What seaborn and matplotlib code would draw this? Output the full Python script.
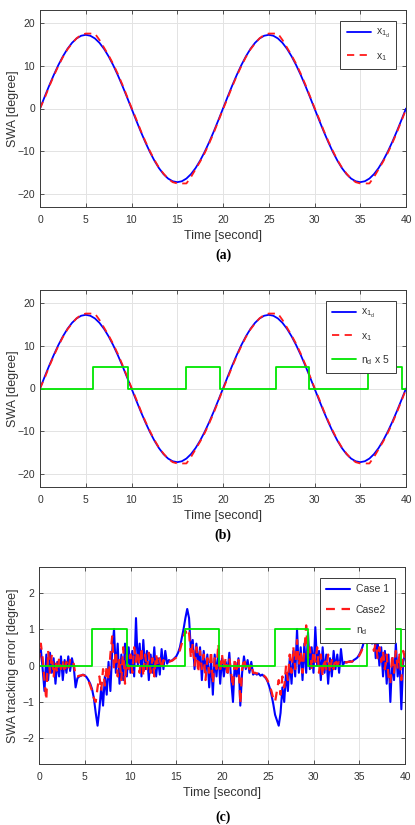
import numpy as np
import pandas as pd
import matplotlib
matplotlib.use("Agg")
import matplotlib.pyplot as plt
import seaborn as sns

# ---------------- data ----------------
dt_sine = 0.5
x1d = [0.0, 2.69, 5.32, 7.81, 10.11, 12.16, 13.92, 15.33, 16.36, 16.99, 17.2,
       16.99, 16.36, 15.33, 13.92, 12.16, 10.11, 7.81, 5.32, 2.69, 0.0,
       -2.69, -5.32, -7.81, -10.11, -12.16, -13.92, -15.33, -16.36, -16.99, -17.2,
       -16.99, -16.36, -15.33, -13.92, -12.16, -10.11, -7.81, -5.32, -2.69, 0.0,
       2.69, 5.32, 7.81, 10.11, 12.16, 13.92, 15.33, 16.36, 16.99, 17.2,
       16.99, 16.36, 15.33, 13.92, 12.16, 10.11, 7.81, 5.32, 2.69, 0.0,
       -2.69, -5.32, -7.81, -10.11, -12.16, -13.92, -15.33, -16.36, -16.99, -17.2,
       -16.99, -16.36, -15.33, -13.92, -12.16, -10.11, -7.81, -5.32, -2.69, 0.0]
x1 = [0.0, 2.4, 5.1, 7.6, 9.9, 12.0, 13.8, 15.2, 16.4, 17.2, 17.5,
      17.5, 17.5, 16.0, 14.2, 12.4, 10.4, 8.1, 5.6, 2.9, 0.2,
      -2.4, -5.1, -7.6, -9.9, -12.0, -13.8, -15.2, -16.4, -17.2, -17.5,
      -17.5, -17.5, -16.0, -14.2, -12.4, -10.4, -8.1, -5.6, -2.9, -0.2,
      2.4, 5.1, 7.6, 9.9, 12.0, 13.8, 15.2, 16.4, 17.2, 17.5,
      17.5, 17.5, 16.0, 14.2, 12.4, 10.4, 8.1, 5.6, 2.9, 0.2,
      -2.4, -5.1, -7.6, -9.9, -12.0, -13.8, -15.2, -16.4, -17.2, -17.5,
      -17.5, -17.5, -16.0, -14.2, -12.4, -10.4, -8.1, -5.6, -2.9, -0.2]

nd_t = [0.0, 5.8, 9.6, 16.0, 19.7, 25.8, 29.4, 35.8, 39.6, 40.0]
nd_v = [0, 1, 0, 1, 0, 1, 0, 1, 0, 0]
nd_scale = 5

dt_err = 0.2
case1 = [0.2, 0.45, -0.1, -0.7, 0.3, -0.4, 0.35, -0.2, 0.2, -0.5,
         0.1, -0.3, 0.25, -0.4, 0.15, -0.2, 0.25, -0.15, 0.2, -0.05,
         -0.6, -0.35, -0.3, -0.28, -0.25, -0.27, -0.32, -0.4, -0.5, -0.65,
         -0.9, -1.3, -1.65, -1.2, -0.6, -1.1, -0.3, -0.8, 0.1, -0.7,
         0.4, 1.0, -0.2, 0.6, -0.5, 0.3, -0.4, 0.6, -0.3, 0.5,
         -0.2, 0.4, -0.3, 1.3, 0.0, 0.6, -0.3, 0.7, -0.1, 0.4,
         -0.4, 0.3, -0.2, 0.5, -0.3, 0.2, -0.25, 0.45, -0.1, 0.4,
         0.05, 0.15, 0.12, 0.15, 0.2, 0.25, 0.35, 0.5, 0.75, 1.0,
         1.3, 1.55, 1.3, 0.4, 0.7, -0.1, 0.6, 0.0, 0.5, -0.4,
         0.4, -0.2, 0.3, -0.6, 0.2, -0.8, 0.3, -0.3, 0.4, -0.5,
         0.2, -0.3, 0.1, -0.2, 0.35, -0.4, -1.0, 0.1, -0.3, 0.2,
         -1.1, -0.2, 0.25, -0.1, 0.15, -0.2, 0.1, -0.25, -0.2, -0.25,
         -0.22, -0.28, -0.25, -0.3, -0.35, -0.45, -0.6, -0.8, -1.05, -1.35,
         -1.5, -1.65, -1.3, -0.6, -1.0, -0.2, -0.7, 0.2, -0.5, 0.4,
         -0.3, 1.0, -0.2, 0.5, -0.4, 0.6, -0.2, 0.9, -0.1, 0.5,
         -0.2, 1.05, 0.0, 0.4, -0.4, 0.5, -0.2, 0.3, -0.5, 0.2,
         -0.3, 0.4, -0.1, 0.3, -0.2, 0.45, 0.0, 0.1, 0.08, 0.1,
         0.12, 0.1, 0.15, 0.18, 0.22, 0.3, 0.4, 0.55, 0.75, 0.95,
         1.05, 0.9, 0.6, 1.05, 0.2, 0.7, 0.0, 0.5, -0.3, 0.4,
         -0.5, 0.3, -1.0, 0.2, -0.4, 0.6, -0.3, 0.2, -1.2, 0.1,
         0.3]
case2 = [0.1, 0.6, 0.2, -0.4, -0.95, 0.4, -0.2, 0.3, -0.3, 0.1,
         -0.2, 0.2, -0.1, 0.15, -0.2, 0.1, -0.1, 0.15, 0.0, 0.05,
         -0.3, -0.3, -0.28, -0.27, -0.26, -0.28, -0.33, -0.42, -0.55, -0.7,
         -0.9, -1.0, -0.6, -0.3, -0.7, -0.1, -0.55, 0.0, -0.4, 0.3,
         0.8, -0.1, 0.4, -0.3, 0.2, -0.4, 0.5, -0.5, 0.3, -0.1,
         0.3, -0.2, 0.5, 0.1, 0.4, -0.2, 0.5, -0.3, 0.3, -0.1,
         0.35, -0.2, 0.2, -0.3, 0.3, 0.0, 0.2, -0.1, 0.15, 0.05,
         0.1, 0.1, 0.12, 0.14, 0.18, 0.22, 0.3, 0.42, 0.6, 0.8,
         0.95, 0.8, 0.9, 0.2, 0.6, 0.0, 0.5, -0.2, 0.4, -0.1,
         0.3, -0.4, 0.2, -0.2, 0.4, -0.5, 0.2, -0.1, 0.6, -0.2,
         0.3, -0.1, 0.2, -0.3, 0.2, -0.2, -0.6, 0.2, -0.1, 0.15,
         -1.05, -0.1, 0.2, -0.05, 0.1, -0.1, 0.05, -0.2, -0.2, -0.22,
         -0.2, -0.25, -0.24, -0.28, -0.33, -0.42, -0.55, -0.7, -0.9, -1.0,
         -0.7, -0.4, -0.8, -0.3, -0.6, 0.0, -0.4, 0.3, -0.2, 0.5,
         -0.1, 0.7, 0.0, 0.4, -0.2, 0.4, 1.1, 0.2, 0.5, -0.1,
         0.4, 0.1, 0.5, -0.2, 0.3, -0.3, 0.2, -0.1, 0.3, -0.2,
         0.15, -0.1, 0.2, 0.0, 0.1, 0.05, 0.08, 0.08, 0.09, 0.1,
         0.1, 0.11, 0.13, 0.16, 0.2, 0.27, 0.37, 0.5, 0.7, 0.88,
         0.95, 0.85, 0.7, 0.4, 0.6, 0.2, 0.5, 0.1, 0.4, -0.1,
         0.3, -0.3, -0.5, 0.3, -0.2, 0.4, -0.1, 0.3, -0.4, 0.4,
         0.2]

xticks = [0, 5, 10, 15, 20, 25, 30, 35, 40]
yticks_ab = [-20, -10, 0, 10, 20]
yticks_c = [-2, -1, 0, 1, 2]

# ---------------- style ----------------
sns.set_theme(style="whitegrid")
plt.rcParams['font.family'] = ['Liberation Sans', 'DejaVu Sans']
plt.rcParams['mathtext.default'] = 'regular'
plt.rcParams['mathtext.fontset'] = 'custom'
plt.rcParams['mathtext.rm'] = 'Liberation Sans'

AX_COL = '#3a3a3a'
TXT_COL = '#333333'
BLUE = '#0000ff'
RED = '#ff1a1a'
GREEN = '#00e600'

W, H = 415, 825
fig = plt.figure(figsize=(W / 100, H / 100), dpi=100)
fig.patch.set_facecolor('white')


def style_axes(ax, ylim, yticks, ylabel, axh_px=197, axw_px=366, left_px=40):
    ax.set_xlim(0, 40)
    ax.set_ylim(*ylim)
    ax.set_xticks(xticks)
    ax.set_yticks(yticks)
    ax.set_facecolor('white')
    ax.grid(True, color='#e3e3e3', linewidth=0.7)
    for s in ax.spines.values():
        s.set_visible(True)
        s.set_color(AX_COL)
        s.set_linewidth(0.7)
    ax.tick_params(direction='in', length=3, width=0.6, colors=AX_COL,
                   labelsize=7.5, top=True, right=True, bottom=True, left=True,
                   labelcolor=TXT_COL)
    ax.tick_params(axis='x', pad=5.5)
    ax.tick_params(axis='y', pad=3.5)
    ax.set_xlabel('Time [second]', fontsize=9, color=TXT_COL)
    ax.set_ylabel(ylabel, fontsize=9, color=TXT_COL)
    ax.xaxis.set_label_coords(0.5, -29 / axh_px)
    ax.xaxis.label.set_va('center')
    ax.yaxis.set_label_coords((13 - left_px) / axw_px, 0.5)
    ax.yaxis.label.set_va('center')


def style_legend(ax):
    leg = ax.legend(loc='upper right', fontsize=7.5, frameon=True, fancybox=False,
                    framealpha=1, edgecolor=AX_COL, handlelength=2.3,
                    labelspacing=1.0, borderpad=0.6, handletextpad=0.5,
                    borderaxespad=0, bbox_to_anchor=(1 - 10 / 366, 1 - 11 / 197))
    leg.get_frame().set_linewidth(0.7)
    for t in leg.get_texts():
        t.set_color(TXT_COL)


t_sine = np.arange(len(x1d)) * dt_sine
t_err = np.arange(len(case1)) * dt_err
nd_arr = np.array(nd_v, dtype=float)

# ---- (a) ----
axa = fig.add_axes([40 / W, 1 - 207 / H, 366 / W, 197 / H])
sns.lineplot(x=t_sine, y=x1d, ax=axa, color=BLUE, linewidth=1.3, label='$x_{1_d}$', errorbar=None)
sns.lineplot(x=t_sine, y=x1, ax=axa, color=RED, linewidth=1.3, linestyle=(0, (4, 3)), label='$x_1$', errorbar=None)
style_axes(axa, (-23, 23), yticks_ab, 'SWA [degree]')
style_legend(axa)

# ---- (b) ----
axb = fig.add_axes([40 / W, 1 - 487 / H, 366 / W, 197 / H])
sns.lineplot(x=t_sine, y=x1d, ax=axb, color=BLUE, linewidth=1.3, label='$x_{1_d}$', errorbar=None)
sns.lineplot(x=t_sine, y=x1, ax=axb, color=RED, linewidth=1.3, linestyle=(0, (4, 3)), label='$x_1$', errorbar=None)
sns.lineplot(x=nd_t, y=nd_arr * nd_scale, ax=axb, color=GREEN, linewidth=1.3,
             drawstyle='steps-post', label='$n_d$ x 5', errorbar=None)
style_axes(axb, (-23, 23), yticks_ab, 'SWA [degree]')
style_legend(axb)

# ---- (c) ----
axc = fig.add_axes([39 / W, 1 - 764 / H, 366 / W, 197 / H])
sns.lineplot(x=t_err, y=case1, ax=axc, color=BLUE, linewidth=1.5, label='Case 1', errorbar=None)
sns.lineplot(x=t_err, y=case2, ax=axc, color=RED, linewidth=1.6, linestyle=(0, (4, 3)), label='Case2', errorbar=None)
sns.lineplot(x=nd_t, y=nd_arr, ax=axc, color=GREEN, linewidth=1.3,
             drawstyle='steps-post', label='$n_d$', errorbar=None)
style_axes(axc, (-2.7, 2.7), yticks_c, 'SWA tracking error [degree]', left_px=39)
style_legend(axc)

# captions
for txt, ypx in [('(a)', 255), ('(b)', 535), ('(c)', 817)]:
    fig.text(223 / W, 1 - ypx / H, txt, ha='center', va='center', fontsize=10,
             fontweight='bold', family=['Liberation Serif', 'DejaVu Serif'], color='black')

fig.savefig('out.png', dpi=100, facecolor='white')
